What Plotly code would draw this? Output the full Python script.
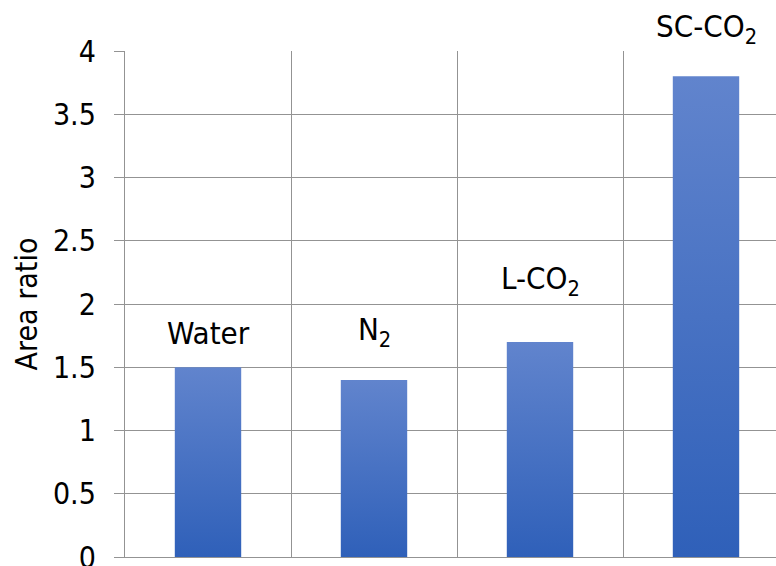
import plotly.graph_objects as go

# Data
categories = ["Water", "N<sub>2</sub>", "L-CO<sub>2</sub>", "SC-CO<sub>2</sub>"]
area_ratio = [1.5, 1.4, 1.7, 3.8]
# Pixel gap between each bar top and the middle of its label
label_offset_px = [34, 48, 61, 48]
y_ticks = [0, 0.5, 1, 1.5, 2, 2.5, 3, 3.5, 4]
y_tick_text = ["0", "0.5", "1", "1.5", "2", "2.5", "3", "3.5", "4"]

FONT = "DejaVu Sans Condensed, Liberation Sans, Arial, sans-serif"
GRID = "#939393"
BAR_HALF = 0.2
GRADIENT = [[0.0, "#2f60b9"], [1.0, "#6184cd"]]

fig = go.Figure()

# Each bar is a filled rectangle with its own vertical gradient
for i, v in enumerate(area_ratio):
    fig.add_trace(go.Scatter(
        x=[i - BAR_HALF, i + BAR_HALF, i + BAR_HALF, i - BAR_HALF, i - BAR_HALF],
        y=[0, 0, v, v, 0],
        mode="none",
        fill="toself",
        fillgradient=dict(type="vertical", colorscale=GRADIENT),
        hoverinfo="skip",
        showlegend=False,
    ))

# Category labels above the bars
for i, (name, v, off) in enumerate(zip(categories, area_ratio, label_offset_px)):
    fig.add_annotation(
        x=i, y=v, xref="x", yref="y", yshift=off,
        text=name, showarrow=False,
        xanchor="center", yanchor="middle",
        font=dict(family=FONT, size=31, color="#000000"),
    )

fig.update_layout(
    width=776, height=566,
    margin=dict(l=125, r=0, t=51, b=9, autoexpand=False),
    paper_bgcolor="white", plot_bgcolor="white",
    font=dict(family=FONT, size=30, color="#000000"),
    showlegend=False,
)

fig.update_xaxes(
    range=[-0.5, -0.5 + 651 / 166],
    tick0=-0.5, dtick=1,
    showgrid=True, gridcolor=GRID, gridwidth=1.3,
    showticklabels=False, ticks="",
    showline=True, linecolor=GRID, linewidth=1.3,
    zeroline=False, fixedrange=True,
)

fig.update_yaxes(
    range=[0, 4],
    tickvals=y_ticks, ticktext=y_tick_text,
    showgrid=True, gridcolor=GRID, gridwidth=1.3,
    ticks="outside", ticklen=10, tickcolor=GRID, tickwidth=1.3,
    ticklabelstandoff=12, ticklabeloverflow="allow",
    tickfont=dict(family=FONT, size=30, color="#000000"),
    showline=True, linecolor=GRID, linewidth=1.3,
    zeroline=False, fixedrange=True,
    title=dict(text="Area ratio", font=dict(family=FONT, size=30, color="#000000"), standoff=6),
    automargin=False,
)

fig.write_html("out.html")
